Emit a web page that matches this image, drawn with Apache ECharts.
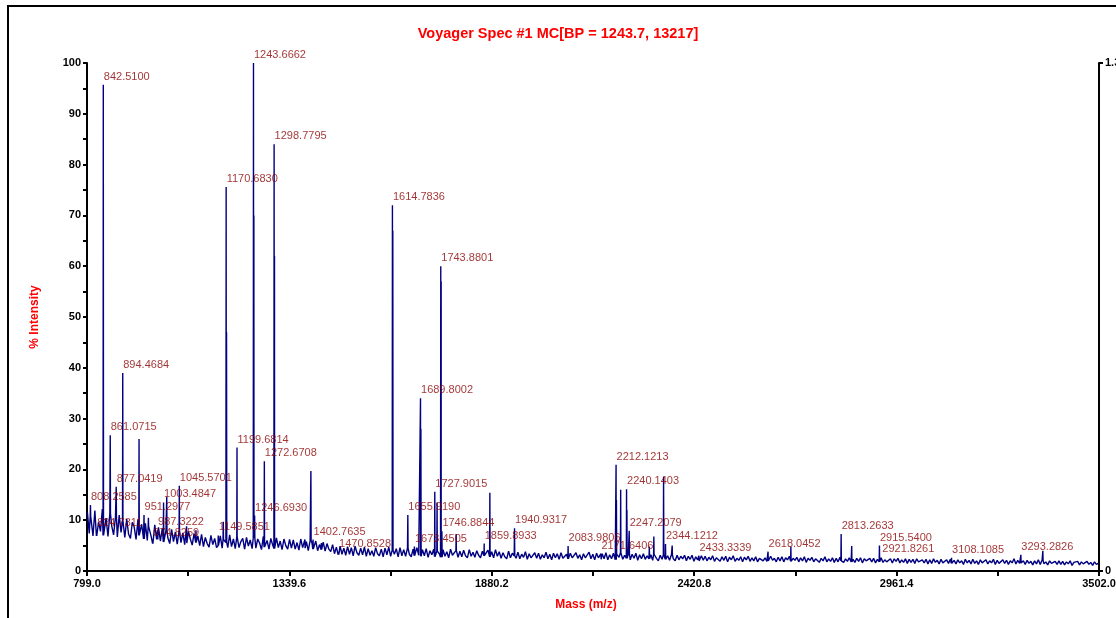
<!DOCTYPE html>
<html>
<head>
<meta charset="utf-8">
<title>Voyager Spec #1</title>
<script src="https://cdn.jsdelivr.net/npm/echarts@6/dist/echarts.min.js"></script>
<style>
  html, body { margin: 0; padding: 0; background: #fff; }
  #chart { width: 1116px; height: 618px; }
</style>
</head>
<body>
<div id="chart"></div>
<script>
// baseline noise (% intensity), one reading every 5 m/z from 800
const baseStart = 800;
const baseStep = 5;
const baseNoise = [
  11.6, 7.4, 10.8, 6.9, 11.9, 6.9, 9.7, 7.8, 12.2, 7.0,
  10.4, 6.8, 11.3, 8.9, 7.1, 10.6, 6.7, 11.0, 7.6, 9.9,
  6.6, 10.2, 7.3, 6.4, 9.6, 8.7, 6.2, 10.1, 7.0, 9.2,
  6.3, 9.4, 6.0, 8.8, 6.9, 5.4, 9.1, 6.2, 8.6, 5.9,
  8.4, 5.7, 8.0, 6.5, 5.4, 8.2, 5.8, 7.7, 5.3, 7.9,
  5.6, 7.5, 5.2, 5.5, 7.8, 6.3, 5.1, 7.4, 5.6, 6.9,
  5.0, 7.2, 4.8, 6.6, 5.4, 4.7, 7.0, 5.2, 6.4, 4.6,
  5.0, 6.9, 4.5, 6.2, 5.6, 4.6, 7.1, 4.8, 6.3, 4.4,
  6.7, 4.6, 5.8, 6.4, 4.3, 6.6, 4.9, 6.1, 4.4, 6.5,
  4.5, 6.3, 5.5, 4.2, 6.8, 4.7, 6.0, 4.3, 6.4, 5.1,
  4.4, 6.5, 4.6, 5.9, 4.2, 6.3, 5.0, 4.3, 6.2, 4.5,
  6.1, 4.3, 5.6, 4.1, 6.3, 4.6, 4.5, 5.8, 4.0, 6.0,
  5.5, 4.3, 5.9, 4.0, 5.2, 4.2, 5.7, 3.9, 5.4, 4.3,
  3.8, 5.2, 3.4, 4.7, 3.2, 4.9, 3.3, 4.5, 3.1, 4.8,
  3.3, 4.6, 3.0, 4.9, 3.6, 3.1, 4.5, 3.2, 4.7, 2.9,
  4.4, 3.1, 4.0, 2.9, 4.6, 3.4, 3.0, 4.3, 2.8, 4.5,
  3.2, 4.7, 2.9, 4.1, 3.3, 4.4, 2.8, 4.6, 3.0, 4.2,
  2.9, 4.5, 3.3, 2.8, 4.3, 3.0, 4.6, 3.1, 2.9, 4.2,
  3.0, 4.4, 2.7, 4.0, 3.2, 4.3, 2.8, 3.9, 3.4, 2.7,
  4.2, 2.9, 3.8, 2.6, 4.3, 3.1, 2.8, 4.0, 2.7, 3.9,
  2.8, 4.1, 3.0, 2.6, 4.2, 2.9, 3.7, 2.7, 4.0, 3.1,
  2.6, 3.9, 3.0, 2.7, 4.1, 2.8, 3.8, 2.6, 4.2, 2.9,
  3.8, 2.5, 3.6, 2.8, 2.4, 3.9, 2.6, 3.5, 3.0, 2.5,
  3.7, 2.4, 3.3, 2.7, 3.8, 2.3, 3.4, 2.6, 2.4, 3.6,
  2.5, 3.5, 2.3, 3.2, 2.6, 3.7, 2.4, 3.3, 2.2, 3.5,
  2.6, 3.4, 2.3, 3.6, 2.5, 2.2, 3.3, 2.4, 3.5, 2.6,
  2.3, 3.6, 2.5, 3.2, 2.2, 3.4, 2.6, 2.3, 3.7, 2.4,
  3.3, 2.2, 3.5, 2.6, 2.3, 3.4, 2.4, 3.6, 2.2, 3.2,
  2.4, 3.5, 2.2, 3.3, 2.7, 3.6, 2.3, 3.1, 2.5, 3.4,
  2.2, 3.3, 2.5, 3.5, 2.1, 3.2, 2.4, 3.4, 2.3, 3.0,
  2.4, 3.2, 2.1, 3.3, 2.5, 2.0, 3.1, 2.3, 3.2, 2.3,
  3.0, 2.1, 3.2, 2.4, 2.0, 3.1, 2.2, 2.9, 2.4, 3.1,
  2.0, 2.9, 2.3, 3.1, 1.9, 2.8, 2.2, 2.0, 3.0, 2.1,
  2.9, 2.0, 2.7, 2.2, 3.0, 1.9, 2.6, 2.3, 1.9, 2.8,
  2.1, 2.9, 1.8, 2.7, 2.2, 3.0, 1.9, 2.5, 2.1, 2.8,
  1.8, 2.7, 2.2, 2.9, 1.9, 2.6, 2.0, 2.8, 1.8, 2.5,
  2.8, 2.0, 2.6, 1.9, 2.0, 2.9, 2.1, 2.5, 1.8, 2.7,
  2.0, 2.8, 1.8, 2.6, 2.2, 2.9, 1.9, 2.5, 2.1, 2.7,
  1.8, 2.6, 2.0, 2.8, 1.7, 2.5, 2.1, 2.7, 1.8, 2.4,
  2.6, 1.7, 2.5, 2.0, 2.8, 1.8, 2.4, 1.9, 2.6, 1.7,
  2.5, 1.8, 2.7, 2.0, 1.7, 2.4, 1.9, 2.6, 1.8, 2.3,
  1.7, 2.5, 1.9, 2.6, 1.6, 2.4, 2.0, 1.7, 2.5, 1.8,
  2.5, 1.6, 2.3, 1.8, 2.6, 1.7, 2.2, 1.8, 1.7, 2.4,
  1.6, 2.4, 1.9, 2.5, 1.6, 2.2, 1.7, 2.4, 1.5, 2.3,
  1.7, 2.3, 1.5, 2.4, 1.8, 1.5, 2.2, 1.6, 2.3, 1.4,
  2.2, 1.5, 2.4, 1.7, 2.1, 1.4, 2.3, 1.6, 1.4, 2.2,
  1.5, 2.3, 1.5, 2.1, 1.4, 2.2, 1.6, 2.0, 1.3, 2.3,
  1.6, 2.1, 1.4, 2.3, 1.5, 2.0, 1.3, 2.2, 1.6, 1.4,
  2.2, 1.4, 2.0, 1.6, 2.3, 1.3, 2.1, 1.5, 1.4, 2.2,
  1.5, 2.1, 1.3, 2.0, 1.6, 2.4, 1.4, 2.1, 1.5, 1.6,
  2.0, 1.3, 2.1, 1.5, 1.9, 1.2, 2.0, 1.4, 2.2, 1.3,
  2.1, 1.4, 1.8, 1.2, 2.0, 1.5, 1.2, 1.9, 1.3, 2.0,
  1.3, 1.9, 1.2, 1.8, 1.4, 2.0, 1.1, 1.7, 1.4, 1.9,
  1.2, 1.8, 1.4, 1.1, 1.9, 1.3, 1.7, 1.1, 1.8, 1.3,
  1.5
];

// labelled peaks
const labelMz = [
  808.2585, 824.7311, 842.5100, 861.0715, 877.0419, 894.4684, 951.2977, 974.8259,
  987.3222, 1003.4847, 1045.5701, 1149.5851, 1170.6830, 1199.6814, 1243.6662, 1246.6930,
  1272.6708, 1298.7795, 1402.7635, 1470.8528, 1614.7836, 1655.9190, 1673.4505, 1689.8002,
  1727.9015, 1743.8801, 1746.8844, 1859.8933, 1940.9317, 2083.9806, 2171.6406, 2212.1213,
  2240.1403, 2247.2079, 2344.1212, 2433.3339, 2618.0452, 2813.2633, 2915.5400, 2921.8261,
  3108.1085, 3293.2826
];
const labelInt = [
  13.0, 7.8, 95.7, 26.7, 16.6, 39.0, 11.0, 6.0,
  8.0, 13.5, 16.8, 7.0, 75.6, 24.3, 100.0, 10.9,
  21.6, 84.0, 6.2, 3.8, 72.0, 11.0, 4.8, 34.0,
  15.6, 60.0, 7.8, 5.4, 8.4, 4.9, 3.4, 20.9,
  16.1, 7.9, 5.3, 3.0, 3.8, 7.3, 5.0, 2.8,
  2.6, 3.2
];

// unlabelled peaks and isotopes
const peakMz = [
  938.0, 963.0, 1012.0, 1065.0, 1090.0, 1163.0, 1171.7, 1244.7,
  1299.8, 1381.0, 1397.0, 1425.0, 1615.8, 1690.8, 1734.0, 1744.9,
  1785.0, 1875.0, 2213.1, 2224.4, 2241.1, 2301.0, 2313.0, 2339.0,
  2362.0, 2679.0, 2841.5, 3352.0
];
const peakInt = [
  26.0, 10.5, 14.6, 8.8, 8.0, 9.7, 47.0, 70.0,
  62.0, 6.2, 19.7, 5.5, 67.0, 28.0, 13.5, 57.0,
  7.3, 15.4, 14.0, 16.0, 12.0, 4.8, 6.8, 18.6,
  5.0, 4.8, 4.9, 4.0
];

const xTicks = [799.0, 1339.6, 1880.2, 2420.8, 2961.4, 3502.0];
const xMinorTicks = [1069.3, 1609.9, 2150.5, 2691.1, 3231.7];

// assemble the spectrum trace
const footAt = mz => {
  const i = Math.round((mz - baseStart) / baseStep);
  return baseNoise[Math.min(baseNoise.length - 1, Math.max(0, i))];
};
const points = baseNoise.map((v, i) => [baseStart + i * baseStep, v]);
const addPeak = (mz, h) => {
  const f = footAt(mz);
  points.push([mz - 0.6, f], [mz, h], [mz + 0.6, f]);
};
labelMz.forEach((mz, i) => addPeak(mz, labelInt[i]));
peakMz.forEach((mz, i) => addPeak(mz, peakInt[i]));
points.sort((a, b) => a[0] - b[0]);

const axisFont = { color: '#000', fontWeight: 'bold', fontSize: 11, fontFamily: 'Arial' };
const nameFont = { color: '#ff0000', fontWeight: 'bold', fontSize: 12, fontFamily: 'Arial' };
const black2 = { color: '#000', width: 2 };

const chart = echarts.init(document.getElementById('chart'));
chart.setOption({
  animation: false,
  title: {
    text: 'Voyager Spec #1 MC[BP = 1243.7, 13217]',
    left: 'center',
    top: 21,
    textStyle: { color: '#ff0000', fontWeight: 'bold', fontSize: 14.5, fontFamily: 'Arial' }
  },
  grid: { left: 87, right: 17, top: 63, bottom: 47, containLabel: false, outerBoundsMode: 'none' },
  xAxis: {
    type: 'value',
    min: 799,
    max: 3502,
    name: 'Mass (m/z)',
    nameLocation: 'middle',
    nameGap: 28,
    nameTextStyle: Object.assign({ padding: [0, 14, 0, 0] }, nameFont),
    axisLine: { lineStyle: black2 },
    axisTick: { customValues: xTicks.concat(xMinorTicks), length: 5, lineStyle: black2 },
    axisLabel: Object.assign({ customValues: xTicks, formatter: v => v.toFixed(1), margin: 7 }, axisFont),
    splitLine: { show: false }
  },
  yAxis: [
    {
      type: 'value',
      min: 0,
      max: 100,
      interval: 10,
      name: '% Intensity',
      nameLocation: 'middle',
      nameGap: 46,
      nameTextStyle: nameFont,
      axisLine: { show: true, lineStyle: black2 },
      axisTick: { show: true, length: 4, lineStyle: black2 },
      minorTick: { show: true, splitNumber: 2, length: 4, lineStyle: black2 },
      axisLabel: Object.assign({ margin: 6 }, axisFont),
      splitLine: { show: false }
    },
    {
      type: 'value',
      position: 'right',
      min: 0,
      max: 100,
      interval: 100,
      axisLine: { show: true, lineStyle: black2 },
      axisTick: { show: true, length: 4, lineStyle: black2 },
      axisLabel: Object.assign({ margin: 6, formatter: v => (v === 0 ? '0' : '1.3E+4') }, axisFont),
      splitLine: { show: false }
    }
  ],
  series: [
    {
      type: 'line',
      data: points,
      symbol: 'none',
      silent: true,
      lineStyle: { color: '#000080', width: 1.4 },
      itemStyle: { color: '#000080' },
      z: 2
    },
    {
      type: 'scatter',
      data: labelMz.map((mz, i) => [mz, labelInt[i]]),
      symbol: 'circle',
      symbolSize: 1,
      silent: true,
      itemStyle: { color: 'rgba(0,0,0,0)' },
      label: {
        show: true,
        position: [1, -13],
        formatter: p => p.value[0].toFixed(4),
        color: '#8b0000',
        fontSize: 11,
        fontFamily: 'Arial'
      },
      z: 3
    }
  ],
  graphic: [
    {
      type: 'rect',
      silent: true,
      z: -1,
      shape: { x: 8, y: 6, width: 1400, height: 800 },
      style: { fill: 'none', stroke: '#000', lineWidth: 2 }
    }
  ]
});
</script>
</body>
</html>
